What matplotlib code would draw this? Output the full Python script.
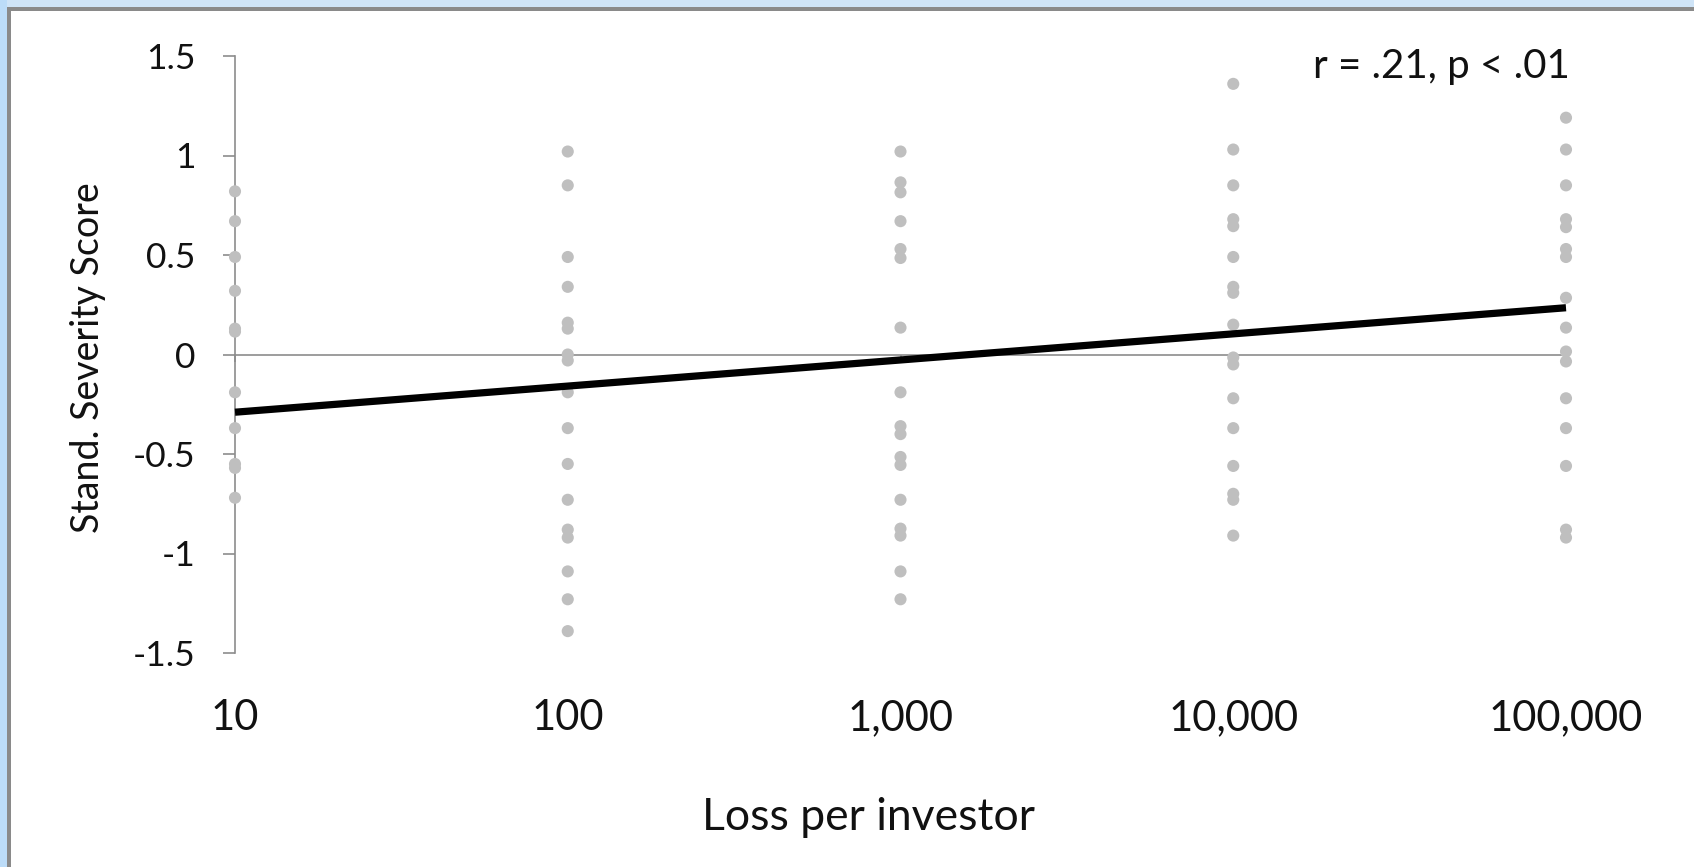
import matplotlib
matplotlib.use("Agg")
import matplotlib.pyplot as plt
from matplotlib.patches import Rectangle

plt.rcParams['font.family'] = ['Lato', 'DejaVu Sans']

# loss conditions and the standardized severity scores observed at each
loss_levels = [10, 100, 1000, 10000, 100000]
scores_10 = [0.82, 0.67, 0.49, 0.32, 0.13, 0.115, -0.19, -0.37, -0.55, -0.57, -0.72]
scores_100 = [1.02, 0.85, 0.49, 0.34, 0.16, 0.13, 0.0, -0.03, -0.19, -0.37,
              -0.55, -0.73, -0.88, -0.92, -1.09, -1.23, -1.39]
scores_1000 = [1.02, 0.865, 0.815, 0.67, 0.53, 0.485, 0.135, -0.19, -0.36, -0.40,
               -0.515, -0.555, -0.73, -0.875, -0.91, -1.09, -1.23]
scores_10000 = [1.36, 1.03, 0.85, 0.68, 0.645, 0.49, 0.34, 0.31, 0.15, -0.015,
                -0.05, -0.22, -0.37, -0.56, -0.70, -0.73, -0.91]
scores_100000 = [1.19, 1.03, 0.85, 0.68, 0.64, 0.53, 0.49, 0.285, 0.135, 0.015,
                 -0.035, -0.22, -0.37, -0.56, -0.88, -0.92]
all_scores = [scores_10, scores_100, scores_1000, scores_10000, scores_100000]

# fitted trend (log loss)
trend_x = [10, 100000]
trend_y = [-0.29, 0.235]

x_tick_labels = ['10', '100', '1,000', '10,000', '100,000']
y_ticks = [-1.5, -1, -0.5, 0, 0.5, 1, 1.5]
y_tick_labels = ['-1.5', '-1', '-0.5', '0', '0.5', '1', '1.5']

axis_grey = '#8c8c8c'
text_col = '#111111'

fig = plt.figure(figsize=(16.94, 8.67), dpi=100)
fig.patch.set_facecolor('white')

# window-style frame along the top and left
fig.patches.append(Rectangle((0, 1 - 7 / 867), 1, 7 / 867, transform=fig.transFigure,
                             facecolor='#cfe4f7', edgecolor='none', zorder=0))
fig.patches.append(Rectangle((0, 0), 7 / 1694, 1, transform=fig.transFigure,
                             facecolor='#bcdcf8', edgecolor='none', zorder=0))
fig.patches.append(Rectangle((7 / 1694, 1 - 11 / 867), 1, 4 / 867, transform=fig.transFigure,
                             facecolor='#8a8a8a', edgecolor='none', zorder=1))
fig.patches.append(Rectangle((7 / 1694, 0), 4 / 1694, 1 - 7 / 867, transform=fig.transFigure,
                             facecolor='#8a8a8a', edgecolor='none', zorder=1))

ax = fig.add_axes([235 / 1694, 1 - 653 / 867, (1566 - 235) / 1694, (653 - 56) / 867])
ax.set_facecolor('none')

for level, scores in zip(loss_levels, all_scores):
    ax.scatter([level] * len(scores), scores, s=76, color='#bfbfbf',
               edgecolors='none', zorder=3, clip_on=False)

ax.plot(trend_x, trend_y, color='black', linewidth=5.2, solid_capstyle='butt',
        zorder=4, clip_on=False)

ax.set_xscale('log')
ax.set_xlim(10, 100000)
ax.set_ylim(-1.5, 1.5)

ax.spines['top'].set_visible(False)
ax.spines['right'].set_visible(False)
ax.spines['left'].set_color(axis_grey)
ax.spines['left'].set_linewidth(1.2)
ax.spines['bottom'].set_position(('data', 0))
ax.spines['bottom'].set_color(axis_grey)
ax.spines['bottom'].set_linewidth(1.2)
ax.spines['bottom'].set_zorder(2)

ax.set_yticks(y_ticks)
ax.set_yticklabels(y_tick_labels)
ax.tick_params(axis='y', direction='out', length=8.6, width=1.2, color=axis_grey,
               pad=20, labelsize=25.5, labelcolor=text_col)

ax.set_xticks(loss_levels)
ax.minorticks_off()
ax.tick_params(axis='x', direction='out', length=5, width=1.2, color=axis_grey,
               labelbottom=False)

# category labels sit at the bottom of the plot, not on the zero line
for level, label in zip(loss_levels, x_tick_labels):
    ax.text(level, -0.109, label, transform=ax.get_xaxis_transform(),
            ha='center', va='center', fontsize=30, color=text_col)

ax.text(1.003, 0.982, 'r = .21, p < .01', transform=ax.transAxes,
        ha='right', va='center', fontsize=29, color=text_col)

fig.text(868 / 1694, 1 - 818 / 867, 'Loss per investor', ha='center', va='center',
         fontsize=32, color=text_col)
fig.text(88 / 1694, 1 - 358 / 867, 'Stand. Severity Score', ha='center', va='center',
         rotation=90, fontsize=27, color=text_col)

fig.savefig('out.png', dpi=100, facecolor=fig.get_facecolor())
